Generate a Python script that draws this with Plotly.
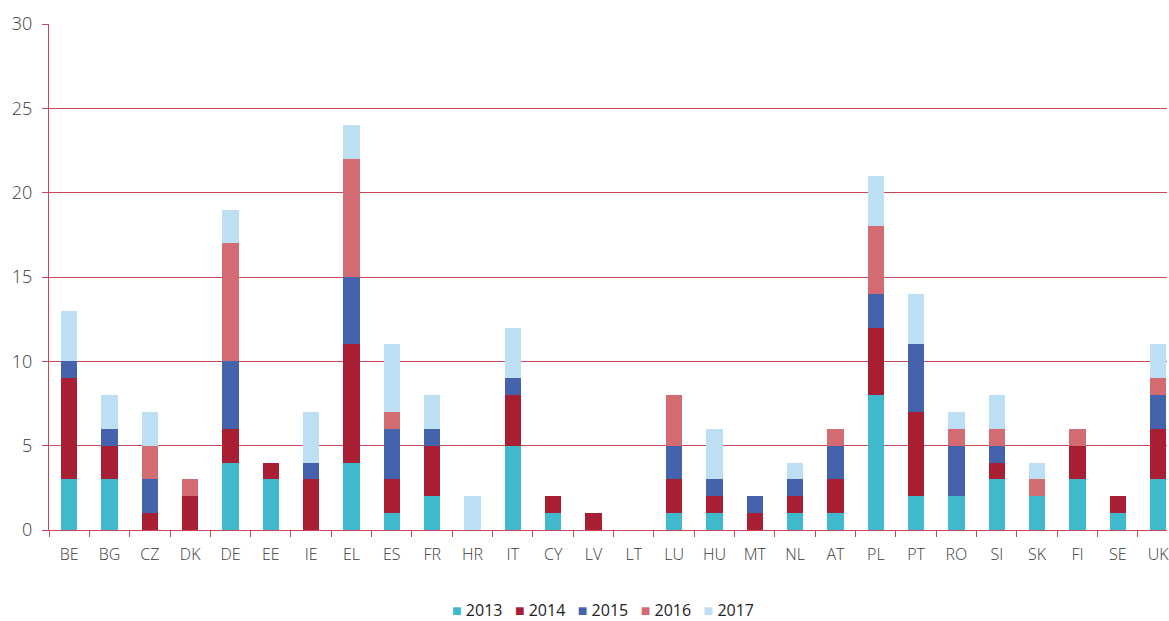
import plotly.graph_objects as go

countries = ["BE", "BG", "CZ", "DK", "DE", "EE", "IE", "EL", "ES", "FR", "HR", "IT", "CY", "LV",
             "LT", "LU", "HU", "MT", "NL", "AT", "PL", "PT", "RO", "SI", "SK", "FI", "SE", "UK"]
y2013 = [3, 3, 0, 0, 4, 3, 0, 4, 1, 2, 0, 5, 1, 0, 0, 1, 1, 0, 1, 1, 8, 2, 2, 3, 2, 3, 1, 3]
y2014 = [6, 2, 1, 2, 2, 1, 3, 7, 2, 3, 0, 3, 1, 1, 0, 2, 1, 1, 1, 2, 4, 5, 0, 1, 0, 2, 1, 3]
y2015 = [1, 1, 2, 0, 4, 0, 1, 4, 3, 1, 0, 1, 0, 0, 0, 2, 1, 1, 1, 2, 2, 4, 3, 1, 0, 0, 0, 2]
y2016 = [0, 0, 2, 1, 7, 0, 0, 7, 1, 0, 0, 0, 0, 0, 0, 3, 0, 0, 0, 1, 4, 0, 1, 1, 1, 1, 0, 1]
y2017 = [3, 2, 2, 0, 2, 0, 3, 2, 4, 2, 2, 3, 0, 0, 0, 0, 3, 0, 1, 0, 3, 3, 1, 2, 1, 0, 0, 2]

series = [("2013", y2013, "#41b9cc"), ("2014", y2014, "#a81e32"), ("2015", y2015, "#4562ad"),
          ("2016", y2016, "#d36c72"), ("2017", y2017, "#bcdff4")]

grid = "#c8485a"
fig = go.Figure()
for name, vals, col in series:
    fig.add_trace(go.Bar(x=countries, y=vals, name=name, marker=dict(color=col, line=dict(width=0)),
                         width=0.4, showlegend=False))

# compact legend row built from the series names and colours
gap = "\u00a0" * 3
legend_text = gap.join(f"<span style='color:{col}'>\u25a0</span>\u00a0{name}" for name, _, col in series)
fig.add_annotation(text=legend_text, xref="paper", yref="paper", x=0.4955, y=-0.158,
                   xanchor="center", yanchor="middle", showarrow=False, borderpad=0,
                   font=dict(family="Open Sans", size=16, color="#222222", weight=400))

fig.update_layout(
    barmode="stack",
    width=1169, height=621,
    margin=dict(l=49, r=0, t=24, b=91),
    plot_bgcolor="white", paper_bgcolor="white",
    font=dict(family="Open Sans", size=16, color="#3a3a3a", weight=300),
    xaxis=dict(type="category", range=[-0.5, 27.22], showline=True, linecolor=grid, linewidth=1,
               ticks="outside", tickson="boundaries", ticklen=6, tickcolor=grid, showgrid=False,
               ticklabelstandoff=10,
               tickfont=dict(size=16, color="#3a3a3a", weight=300)),
    yaxis=dict(range=[0, 30], dtick=5, showgrid=True, gridcolor=grid, gridwidth=1, zeroline=False,
               showline=True, linecolor=grid, linewidth=1, ticks="outside", ticklen=6, tickcolor=grid,
               ticklabelstandoff=6,
               tickfont=dict(size=18, color="#3a3a3a", weight=300)),
    bargap=0.6,
)
fig.write_html("out.html", config={"displayModeBar": False},
               post_script="document.body.style.margin='0';document.body.style.overflow='hidden';")
